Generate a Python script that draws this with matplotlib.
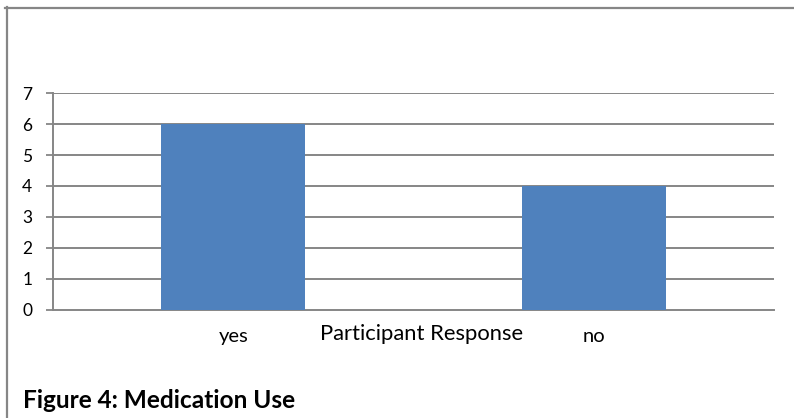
import matplotlib
matplotlib.use("Agg")
import matplotlib.pyplot as plt
from matplotlib.lines import Line2D

categories = ["yes", "no"]
counts = [6, 4]
y_ticks = [0, 1, 2, 3, 4, 5, 6, 7]

W, H = 794, 418
fig = plt.figure(figsize=(W / 100, H / 100), dpi=100)
plt.rcParams["font.family"] = ["Lato", "DejaVu Sans"]

grey = "#868686"

# frame around the chart object (top and left edges)
fig.add_artist(Line2D([5 / W, 1], [1 - 7.5 / H, 1 - 7.5 / H], color=grey, lw=1.6,
                      transform=fig.transFigure))
fig.add_artist(Line2D([6.5 / W, 6.5 / W], [0, 1 - 7 / H], color=grey, lw=1.6,
                      transform=fig.transFigure))

left, right = 53, 774
top, bottom = 93.3, 309.5
ax = fig.add_axes([left / W, 1 - bottom / H, (right - left) / W, (bottom - top) / H])

x = list(range(len(categories)))
ax.bar(x, counts, width=0.4, color="#4F81BD", zorder=3)
ax.set_xlim(-0.5, len(categories) - 0.5)
ax.set_ylim(0, 7)

ax.set_yticks(y_ticks)
ax.set_yticklabels([str(t) for t in y_ticks], fontsize=12.5, color="#000000")
ax.set_xticks(x)
ax.set_xticklabels(categories, fontsize=14.5)
ax.tick_params(axis="x", length=0, pad=13)
ax.tick_params(axis="y", length=5, width=1.3, color=grey, pad=10)

for y in y_ticks[1:]:
    ax.axhline(y, color=grey, lw=1.4, zorder=1)

for s in ["top", "right"]:
    ax.spines[s].set_visible(False)
for s in ["left", "bottom"]:
    ax.spines[s].set_color(grey)
    ax.spines[s].set_linewidth(1.4)

ax.set_xlabel("Participant Response", fontsize=15.8, va="center")
ax.xaxis.set_label_coords(0.511, -0.112)

fig.text(23 / W, 1 - 408 / H, "Figure 4: Medication Use", fontsize=17.6,
         fontweight="bold", va="baseline", ha="left")

fig.savefig("out.png", dpi=100)
